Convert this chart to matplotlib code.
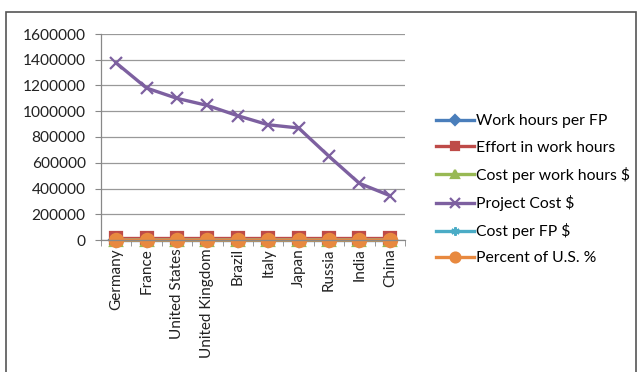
import numpy as np
import matplotlib.pyplot as plt
from matplotlib.patches import Rectangle

# DATA
countries = ["Germany", "France", "United States", "United Kingdom", "Brazil",
             "Italy", "Japan", "Russia", "India", "China"]

work_hours_per_fp = [15, 15, 15, 15, 15, 15, 15, 15, 15, 15]
effort_work_hours = [15000, 15000, 15000, 15000, 15000, 15000, 15000, 15000, 15000, 15000]
cost_per_work_hour = [92, 79, 73, 70, 64, 60, 58, 43, 29, 23]
project_cost = [1375000, 1180000, 1100000, 1045000, 965000,
                895000, 870000, 650000, 440000, 345000]
cost_per_fp = [1375, 1180, 1100, 1045, 965, 895, 870, 650, 440, 345]
percent_of_us = [125, 107, 100, 95, 88, 81, 79, 59, 40, 31]

yticks = [0, 200000, 400000, 600000, 800000, 1000000, 1200000, 1400000, 1600000]

plt.rcParams['font.family'] = ['Lato', 'DejaVu Sans']

W, H = 642, 372
fig = plt.figure(figsize=(W / 100, H / 100), dpi=100)
ax = fig.add_axes([101 / W, 1 - 240 / H, (405 - 101) / W, (240 - 34) / H])

x = np.arange(len(countries))
series = [
    ("Work hours per FP", work_hours_per_fp, "#4A7EBB", "D", 7),
    ("Effort in work hours", effort_work_hours, "#BE4B48", "s", 8.5),
    ("Cost per work hours $", cost_per_work_hour, "#98B954", "^", 8),
    ("Project Cost $", project_cost, "#7D60A0", "x", 9),
    ("Cost per FP $", cost_per_fp, "#4BACC6", (6, 2, 0), 8),
    ("Percent of U.S. %", percent_of_us, "#E8893F", "o", 9.5),
]
handles = []
for name, vals, col, mk, ms in series:
    h, = ax.plot(x, vals, color=col, lw=2.4, marker=mk, markersize=ms,
                 markeredgecolor=col, markerfacecolor=col, mew=1.6,
                 label=name, clip_on=False)
    handles.append(h)

ax.set_xlim(-0.5, len(countries) - 0.5)
ax.set_ylim(0, 1600000)
ax.set_yticks(yticks)
ax.set_yticklabels([str(v) for v in yticks], fontsize=11.2, color="#222222")
ax.set_xticks(x)
ax.set_xticklabels(countries, rotation=90, fontsize=11, color="#222222")
ax.set_xticks(np.arange(-0.5, len(countries), 1), minor=True)
ax.tick_params(axis="x", which="major", length=0, pad=6)
ax.tick_params(axis="x", which="minor", length=4, color="#888888", direction="out")
ax.tick_params(axis="y", length=4, color="#888888", pad=7)

ax.grid(axis="y", color="#999999", lw=0.9)
ax.set_axisbelow(True)
for s in ["top", "right"]:
    ax.spines[s].set_visible(False)
for s in ["left", "bottom"]:
    ax.spines[s].set_color("#888888")
    ax.spines[s].set_linewidth(0.9)

fig.legend(handles=handles, loc="upper left", bbox_to_anchor=(430 / W, 1 - 108 / H),
           frameon=False, fontsize=11.3, handlelength=2.4, handletextpad=0.15,
           labelspacing=0.78, borderaxespad=0, markerscale=0.75)

# outer frame of the chart
fig.patches.append(Rectangle((6 / W, -0.05), (636 - 6) / W, 1.05 - 12 / H,
                             transform=fig.transFigure, fill=False,
                             edgecolor="#555555", lw=1.2))

fig.savefig("out.png", dpi=100)
